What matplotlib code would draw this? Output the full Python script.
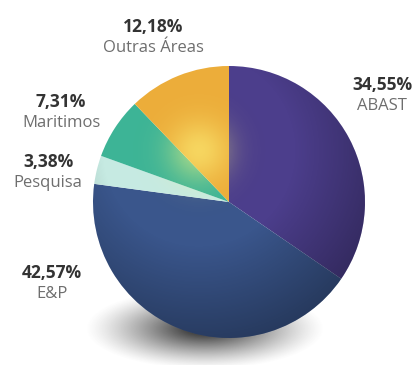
import numpy as np
import matplotlib.pyplot as plt
from matplotlib.patches import Circle

# participação por área
areas = ['ABAST', 'E&P', 'Pesquisa', 'Maritimos', 'Outras Áreas']
percent = [34.55, 42.57, 3.38, 7.31, 12.18]
cores = ['#4c3e8c', '#3a568c', '#c6eae2', '#3db496', '#ecad3a']
labels_pct = ['34,55%', '42,57%', '3,38%', '7,31%', '12,18%']

W, H = 418, 365
fig = plt.figure(figsize=(W / 100, H / 100), dpi=100)
ax = fig.add_axes([0, 0, 1, 1])

cx, cy, r = 229, 163, 136

# sombra desfocada sob a pizza
gx, gy = np.meshgrid(np.linspace(0, W, 420), np.linspace(0, H, 366))
d = np.sqrt(((gx - 205) / 100) ** 2 + ((gy - 36) / 34) ** 2)
a = np.clip(1.2 - d, 0, 1) ** 1.3 * 1.0
sombra = np.zeros(gx.shape + (4,))
sombra[..., :3] = 0.28
sombra[..., 3] = np.clip(a, 0, 1)
ax.imshow(sombra, extent=[0, W, 0, H], origin='lower', zorder=1,
          interpolation='bilinear')

wedges, _ = ax.pie(percent, colors=cores, startangle=90, counterclock=False,
                   center=(cx, cy), radius=r, frame=True,
                   wedgeprops=dict(linewidth=0))
for w in wedges:
    w.set_zorder(2)

# brilho amarelado perto do centro e escurecimento na borda
px, py = np.meshgrid(np.linspace(cx - r, cx + r, 300), np.linspace(cy - r, cy + r, 300))
ux, uy = (px - cx) / r, (py - cy) / r
dl = np.sqrt((ux + 0.22) ** 2 + (uy - 0.38) ** 2)
luz = 0.55 * np.exp(-(dl / 0.22) ** 2)
escuro = 0.4 * np.clip((dl - 0.7) / 0.9, 0, 1)
alpha = luz + escuro
frac = luz / np.maximum(alpha, 1e-6)
over = np.zeros(px.shape + (4,))
over[..., 0] = frac
over[..., 1] = frac * 0.97
over[..., 2] = frac * 0.5
over[..., 3] = np.clip(alpha, 0, 1)
im = ax.imshow(over, extent=[cx - r, cx + r, cy - r, cy + r], origin='lower',
               zorder=3, interpolation='bilinear')
im.set_clip_path(Circle((cx, cy), r, transform=ax.transData))

fonte = 'Open Sans'
pos = {
    'ABAST': (382, 280),
    'E&P': (52, 92),
    'Pesquisa': (48, 203),
    'Maritimos': (61, 263),
    'Outras Áreas': (153, 338),
}
for nome, pct in zip(areas, labels_pct):
    x, y = pos[nome]
    ax.text(x, y, pct, ha='center', va='center', fontsize=12.5,
            fontweight='bold', color='#333333', family=fonte, zorder=5)
    ax.text(x, y - 21, nome, ha='center', va='center', fontsize=12,
            color='#6e6e6e', family=fonte, zorder=5)

ax.set_xlim(0, W)
ax.set_ylim(0, H)
ax.set_aspect('auto')
ax.axis('off')

fig.savefig('out.png', dpi=100, facecolor='white')
